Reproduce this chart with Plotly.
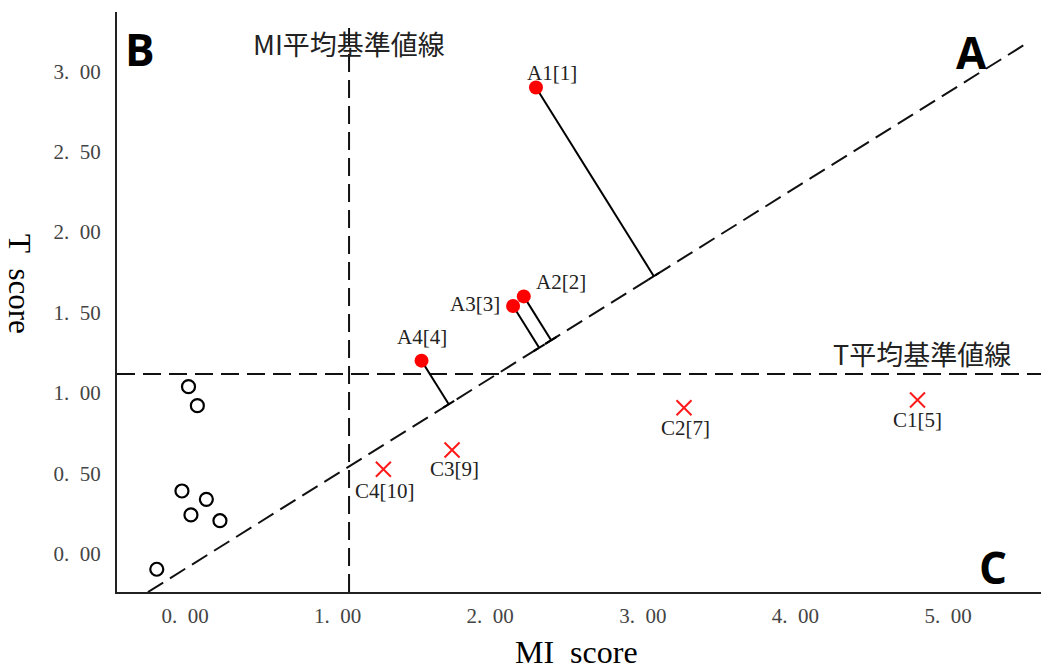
import plotly.graph_objects as go
import numpy as np

# ---------------- data ----------------
a_labels = ["A1[1]", "A2[2]", "A3[3]", "A4[4]"]
a_mi = [2.30, 2.22, 2.15, 1.55]
a_t = [2.90, 1.60, 1.54, 1.20]

c_labels = ["C1[5]", "C2[7]", "C3[9]", "C4[10]"]
c_mi = [4.80, 3.27, 1.75, 1.30]
c_t = [0.955, 0.907, 0.644, 0.524]

o_mi = [0.023, 0.081, -0.020, 0.140, 0.039, 0.229, -0.185]
o_t = [1.038, 0.920, 0.389, 0.337, 0.240, 0.204, -0.098]

MI_MEAN = 1.075
T_MEAN = 1.117
diag_slope = 0.593
diag_intercept = -0.096
diag_x = [-0.243, 5.516]

x_ticks = [0, 1, 2, 3, 4, 5]
x_ticktext = ["0.\u00a0\u00a000", "1.\u00a0\u00a000", "2.\u00a0\u00a000",
              "3.\u00a0\u00a000", "4.\u00a0\u00a000", "5.\u00a0\u00a000"]
y_ticks = [0, 0.5, 1.0, 1.5, 2.0, 2.5, 3.0]
y_ticktext = ["0.\u00a0\u00a000", "0.\u00a0\u00a050", "1.\u00a0\u00a000", "1.\u00a0\u00a050",
              "2.\u00a0\u00a000", "2.\u00a0\u00a050", "3.\u00a0\u00a000"]

# label offsets in pixels (layout)
a_shift = [(16, 14), (37, 14), (-38, 2), (0, 24)]
c_shift = [(0, -20), (1, -20), (2, -19), (2, -22)]

# ---------------- layout constants ----------------
W, H = 1041, 665
ML, MR, MT, MB = 117, 0, 12, 73
X_RANGE = [-0.4456, 5.6094]
Y_RANGE = [-0.2396, 3.3697]
PW = W - ML - MR
PH = H - MT - MB
sx = PW / (X_RANGE[1] - X_RANGE[0])
sy = PH / (Y_RANGE[1] - Y_RANGE[0])
X0, Y0 = ML, H - MB  # plot-area origin in pixels


def px(vx):
    return (vx - X0) / PW


def py(vy):
    return (Y0 - vy) / PH


SERIF = "Liberation Serif, Times New Roman, serif"
CJK = "Noto Sans CJK JP, Noto Sans, sans-serif"

fig = go.Figure()

# perpendicular segments from A points to the diagonal (in screen space)
d = np.array([sx, diag_slope * sy])
d = d / np.linalg.norm(d)
L0 = np.array([0.0, diag_intercept * sy])
seg_x, seg_y = [], []
TICK_HALF = 6.5
for x, y in zip(a_mi, a_t):
    P = np.array([x * sx, y * sy])
    foot = L0 + np.dot(P - L0, d) * d
    fx, fy = foot[0] / sx, foot[1] / sy
    seg_x += [x, fx, None]
    seg_y += [y, fy, None]
    t1 = foot - TICK_HALF * d
    t2 = foot + TICK_HALF * d
    seg_x += [t1[0] / sx, t2[0] / sx, None]
    seg_y += [t1[1] / sy, t2[1] / sy, None]

fig.add_trace(go.Scatter(x=seg_x, y=seg_y, mode="lines",
                         line=dict(color="black", width=2), hoverinfo="skip",
                         showlegend=False))

fig.add_trace(go.Scatter(x=o_mi, y=o_t, mode="markers",
                         marker=dict(symbol="circle-open", size=13,
                                     line=dict(color="black", width=2.2), color="black"),
                         showlegend=False))

fig.add_trace(go.Scatter(x=c_mi, y=c_t, mode="markers",
                         marker=dict(symbol="x-thin-open", size=15,
                                     line=dict(color="#ff1a1a", width=2), color="#ff1a1a"),
                         showlegend=False))

fig.add_trace(go.Scatter(x=a_mi, y=a_t, mode="markers",
                         marker=dict(symbol="circle", size=14, color="#ff0000",
                                     line=dict(width=0)),
                         showlegend=False))

DASH = "18px,8px"
shapes = [
    dict(type="line", xref="x", yref="y", x0=diag_x[0],
         y0=diag_slope * diag_x[0] + diag_intercept,
         x1=diag_x[1], y1=diag_slope * diag_x[1] + diag_intercept,
         line=dict(color="#111", width=2, dash=DASH), layer="below"),
    dict(type="line", xref="x", yref="y domain", x0=MI_MEAN, x1=MI_MEAN, y0=0, y1=0.986,
         line=dict(color="#111", width=2, dash=DASH), layer="below"),
    dict(type="line", xref="x domain", yref="y", x0=0, x1=1, y0=T_MEAN, y1=T_MEAN,
         line=dict(color="#111", width=2, dash=DASH), layer="below"),
]

annotations = []
for lab, x, y, (dx, dy) in zip(a_labels, a_mi, a_t, a_shift):
    annotations.append(dict(x=x, y=y, xref="x", yref="y", text=lab, showarrow=False,
                            xshift=dx, yshift=dy, xanchor="center", yanchor="middle",
                            font=dict(family=SERIF, size=21, color="#222")))
for lab, x, y, (dx, dy) in zip(c_labels, c_mi, c_t, c_shift):
    annotations.append(dict(x=x, y=y, xref="x", yref="y", text=lab, showarrow=False,
                            xshift=dx, yshift=dy, xanchor="center", yanchor="middle",
                            font=dict(family=SERIF, size=21, color="#222")))

BIG = dict(family="Open Sans, sans-serif", size=44, color="black")
annotations += [
    dict(x=MI_MEAN, y=py(43), xref="x", yref="paper", text="MI平均基準値線",
         showarrow=False, xanchor="center", yanchor="middle",
         font=dict(family=CJK, size=27, color="#222")),
    dict(x=px(1013), y=T_MEAN, xref="paper", yref="y", text="T平均基準値線",
         showarrow=False, xanchor="right", yanchor="middle", yshift=21,
         font=dict(family=CJK, size=27, color="#222")),
    dict(x=px(971), y=py(52), xref="paper", yref="paper", text="<b>A</b>",
         showarrow=False, xanchor="center", yanchor="middle", font=BIG),
    dict(x=px(140), y=py(49), xref="paper", yref="paper", text="<b>B</b>",
         showarrow=False, xanchor="center", yanchor="middle", font=BIG),
    dict(x=px(993), y=py(567), xref="paper", yref="paper", text="<b>C</b>",
         showarrow=False, xanchor="center", yanchor="middle", font=BIG),
    dict(x=px(20), y=py(284), xref="paper", yref="paper",
         text="T\u00a0\u00a0score", textangle=90, showarrow=False,
         xanchor="center", yanchor="middle",
         font=dict(family=SERIF, size=31, color="black")),
    dict(x=px(576), y=py(632), xref="paper", yref="paper",
         text="MI\u00a0\u00a0score", showarrow=False, xanchor="center", yanchor="top",
         font=dict(family=SERIF, size=32, color="black")),
]

fig.update_layout(
    width=W, height=H, autosize=False,
    margin=dict(l=ML, r=MR, t=MT, b=MB, pad=0),
    paper_bgcolor="white", plot_bgcolor="white",
    showlegend=False,
    shapes=shapes, annotations=annotations,
    xaxis=dict(range=X_RANGE, showgrid=False, zeroline=False, showline=True,
               linecolor="#222", linewidth=2, ticks="", tickvals=x_ticks,
               ticktext=x_ticktext, ticklabelstandoff=4,
               tickfont=dict(family=SERIF, size=21, color="#444")),
    yaxis=dict(range=Y_RANGE, showgrid=False, zeroline=False, showline=True,
               linecolor="#222", linewidth=2, ticks="", tickvals=y_ticks,
               ticktext=y_ticktext, ticklabelstandoff=10,
               tickfont=dict(family=SERIF, size=21, color="#444")),
)

fig.write_html(
    "out.html",
    config={"displayModeBar": False},
    post_script="document.body.style.margin='0';document.body.style.overflow='hidden';",
)
